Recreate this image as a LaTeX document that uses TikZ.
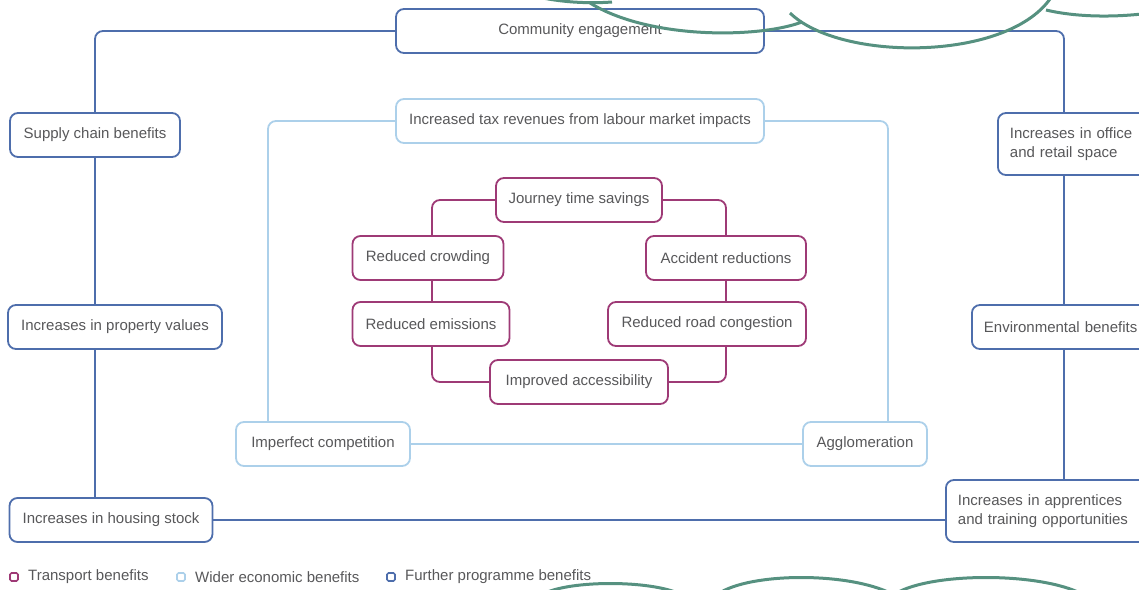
\documentclass[tikz,border=0pt]{standalone}
\usepackage{fontspec}
\setmainfont{Liberation Sans}
\usetikzlibrary{shapes,fit}

\definecolor{transport}{RGB}{158,58,118}
\definecolor{wider}{RGB}{172,208,234}
\definecolor{further}{RGB}{78,110,172}
\definecolor{labelgray}{RGB}{88,88,90}
\definecolor{cloudgreen}{RGB}{86,145,128}

\begin{document}
\begin{tikzpicture}[x=1pt,y=-1pt,
  box/.style={draw, rounded corners=8pt, line width=1.8pt, fill=white,
    minimum height=44pt, inner sep=0pt, text=labelgray,
    font=\fontsize{15}{19.5}\selectfont},
  tbox/.style={box, draw=transport},
  wbox/.style={box, draw=wider},
  fbox/.style={box, draw=further},
  sidebox/.style={fbox, anchor=west, align=left, inner xsep=12pt, minimum height=62pt},
  link/.style={line width=1.8pt, rounded corners=8pt},
  keybox/.style={draw=#1, line width=1.6pt, rounded corners=1.5pt, minimum size=8pt, inner sep=0pt},
  keytext/.style={anchor=west, inner sep=0pt, text=labelgray, font=\fontsize{15}{18}\selectfont},
  cloud/.style={cloudgreen, line width=3pt}]
% Frame
\useasboundingbox (0,0) rectangle (1139,589);

% Columns for the vertical links
\coordinate (lcol) at (95,0);
\coordinate (rcol) at (1064,0);
\coordinate (wlcol) at (268,0);
\coordinate (wrcol) at (888,0);
\coordinate (tlcol) at (432,0);
\coordinate (trcol) at (726,0);

% Further programme benefits
\node[fbox, minimum width=368pt] (community) at (580,31) {Community engagement};
\node[fbox, minimum width=170pt] (supply) at (95,135) {Supply chain benefits};
\node[fbox, minimum width=214pt] (property) at (115,327) {Increases in property values};
\node[fbox, minimum width=203pt] (housing) at (111,520) {Increases in housing stock};
\node[sidebox, text width=140pt] (office) at (997,144) {Increases in office\\and retail space};
\node[sidebox, text width=170pt, minimum height=44pt] (environment) at (971,327) {Environmental benefits};
\node[sidebox, text width=190pt] (apprentices) at (945,511) {Increases in apprentices\\and training opportunities};

% Wider economic benefits
\node[wbox, minimum width=368pt] (tax) at (580,121) {Increased tax revenues from labour market impacts};
\node[wbox, minimum width=174pt] (competition) at (323,444) {Imperfect competition};
\node[wbox, minimum width=124pt] (agglomeration) at (865,444) {Agglomeration};

% Transport benefits
\node[tbox, minimum width=166pt] (journey) at (579,200) {Journey time savings};
\node[tbox, minimum width=151pt] (crowding) at (428,258) {Reduced crowding};
\node[tbox, minimum width=160pt] (accident) at (726,258) {Accident reductions};
\node[tbox, minimum width=157pt] (emissions) at (431,324) {Reduced emissions};
\node[tbox, minimum width=198pt] (congestion) at (707,324) {Reduced road congestion};
\node[tbox, minimum width=178pt] (access) at (579,382) {Improved accessibility};

% Links
\draw[link, further] (community.west) -| (supply.north);
\draw[link, further] (community.east) -| (office.north -| rcol);
\draw[link, further] (supply.south) -- (property.north -| lcol);
\draw[link, further] (property.south -| lcol) -- (housing.north -| lcol);
\draw[link, further] (office.south -| rcol) -- (environment.north -| rcol);
\draw[link, further] (environment.south -| rcol) -- (apprentices.north -| rcol);
\draw[link, further] (housing.east) -- (housing.east -| apprentices.west);

\draw[link, wider] (tax.west) -| (competition.north -| wlcol);
\draw[link, wider] (tax.east) -| (agglomeration.north -| wrcol);
\draw[link, wider] (competition.east) -- (agglomeration.west);

\draw[link, transport] (journey.west) -| (crowding.north -| tlcol);
\draw[link, transport] (journey.east) -| (accident.north -| trcol);
\draw[link, transport] (crowding.south -| tlcol) -- (emissions.north -| tlcol);
\draw[link, transport] (accident.south -| trcol) -- (congestion.north -| trcol);
\draw[link, transport] (emissions.south -| tlcol) |- (access.west);
\draw[link, transport] (congestion.south -| trcol) |- (access.east);

% Key
\node[keybox=transport] (keyT) at (14,577) {};
\node[keytext] (keyTtext) at (28,577) {Transport benefits};
\node[keybox=wider] (keyW) at (181,577) {};
\node[keytext] (keyWtext) at (195,577) {Wider economic benefits};
\node[keybox=further] (keyF) at (391,577) {};
\node[keytext] (keyFtext) at (405,577) {Further programme benefits};

% Cloud edges
\draw[cloud] (520,-8) .. controls (550,2) and (585,4) .. (612,2);
\draw[cloud] (590,3) .. controls (650,40) and (760,38) .. (802,22);
\draw[cloud] (790,13) .. controls (840,62) and (1010,62) .. (1052,-4);
\draw[cloud] (1046,10) .. controls (1080,18) and (1120,17) .. (1150,13);
\draw[cloud] (543,594) .. controls (570,580) and (650,580) .. (680,594);
\draw[cloud] (718,594) .. controls (750,572) and (850,572) .. (892,594);
\draw[cloud] (895,594) .. controls (930,572) and (1040,572) .. (1082,594);
\end{tikzpicture}
\end{document}
